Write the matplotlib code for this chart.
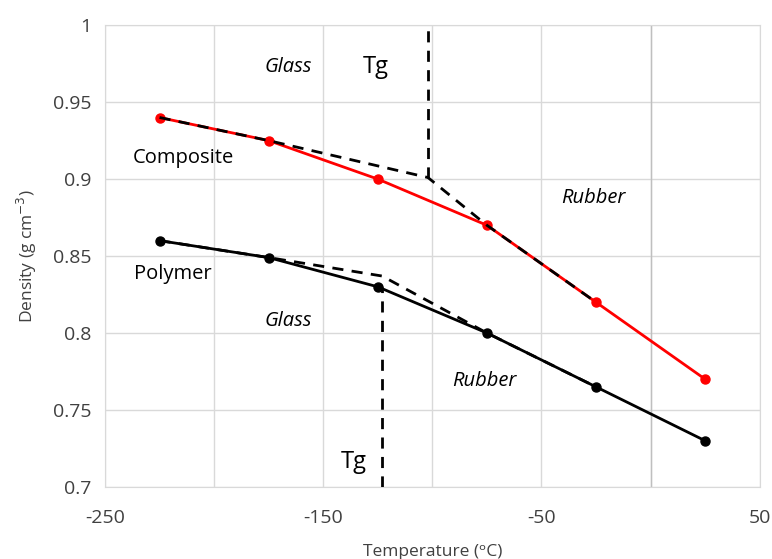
import numpy as np
import matplotlib
matplotlib.use('Agg')
import matplotlib.pyplot as plt

plt.rcParams['font.family'] = ['Open Sans', 'DejaVu Sans']

# measured points
temp = [-225, -175, -125, -75, -25, 25]
composite = [0.940, 0.925, 0.900, 0.870, 0.820, 0.770]
polymer = [0.860, 0.849, 0.830, 0.800, 0.765, 0.730]

# glass/rubber trend lines (dashed)
comp_fit_x = [-225, -175, -102, -75, -25]
comp_fit_y = [0.940, 0.925, 0.901, 0.870, 0.820]
poly_fit_x = [-225, -175, -123, -75, -25]
poly_fit_y = [0.860, 0.849, 0.837, 0.800, 0.765]

# Tg markers
comp_tg = -102
poly_tg = -123

xticks = [-250, -200, -150, -100, -50, 0, 50]
xlabels = ['-250', '', '-150', '', '-50', '', '50']
yticks = [0.7, 0.75, 0.8, 0.85, 0.9, 0.95, 1.0]
ylabels = ['0.7', '0.75', '0.8', '0.85', '0.9', '0.95', '1']

fig = plt.figure(figsize=(7.72, 5.59), dpi=100)
ax = fig.add_axes([0.136, 0.129, 0.848, 0.826])

ax.plot(temp, composite, color='red', lw=2, marker='o', ms=6.5, zorder=3)
ax.plot(temp, polymer, color='black', lw=2, marker='o', ms=6.5, zorder=3)
ax.plot(comp_fit_x, comp_fit_y, color='black', lw=2, ls=(0, (4, 3)), zorder=4)
ax.plot(poly_fit_x, poly_fit_y, color='black', lw=2, ls=(0, (4, 3)), zorder=4)
ax.plot([comp_tg, comp_tg], [0.901, 1.0], color='black', lw=2, ls=(0, (4, 3)), zorder=4)
ax.plot([poly_tg, poly_tg], [0.7, 0.830], color='black', lw=2, ls=(0, (4, 3)), zorder=4)

fs = 14.5
ax.text(-166, 0.973, 'Glass', style='italic', fontsize=fs, ha='center', va='center')
ax.text(-126, 0.973, 'Tg', fontsize=17, ha='center', va='center')
ax.text(-214, 0.914, 'Composite', fontsize=fs, ha='center', va='center')
ax.text(-26, 0.888, 'Rubber', style='italic', fontsize=fs, ha='center', va='center')
ax.text(-219, 0.838, 'Polymer', fontsize=fs, ha='center', va='center')
ax.text(-166, 0.808, 'Glass', style='italic', fontsize=fs, ha='center', va='center')
ax.text(-76, 0.769, 'Rubber', style='italic', fontsize=fs, ha='center', va='center')
ax.text(-136, 0.716, 'Tg', fontsize=17, ha='center', va='center')

ax.set_xlim(-250, 50)
ax.set_ylim(0.7, 1.0)
ax.set_xticks(xticks)
ax.set_xticklabels(xlabels)
ax.set_yticks(yticks)
ax.set_yticklabels(ylabels)
ax.tick_params(length=0, labelsize=14, colors='#404040')
ax.tick_params(axis='x', pad=16)
ax.tick_params(axis='y', pad=10)
ax.grid(True, color='#d9d9d9', lw=1)
ax.axvline(0, color='#bfbfbf', lw=1, zorder=1)
for s in ax.spines.values():
    s.set_color('#d9d9d9')
ax.set_axisbelow(True)

ax.set_xlabel('Temperature (\u1d52C)', fontsize=12.5, color='#404040', labelpad=12)
ax.set_ylabel('Density (g cm$^{-3}$)', fontsize=12.5, color='#404040', labelpad=10)

fig.savefig('out.png', dpi=100)
